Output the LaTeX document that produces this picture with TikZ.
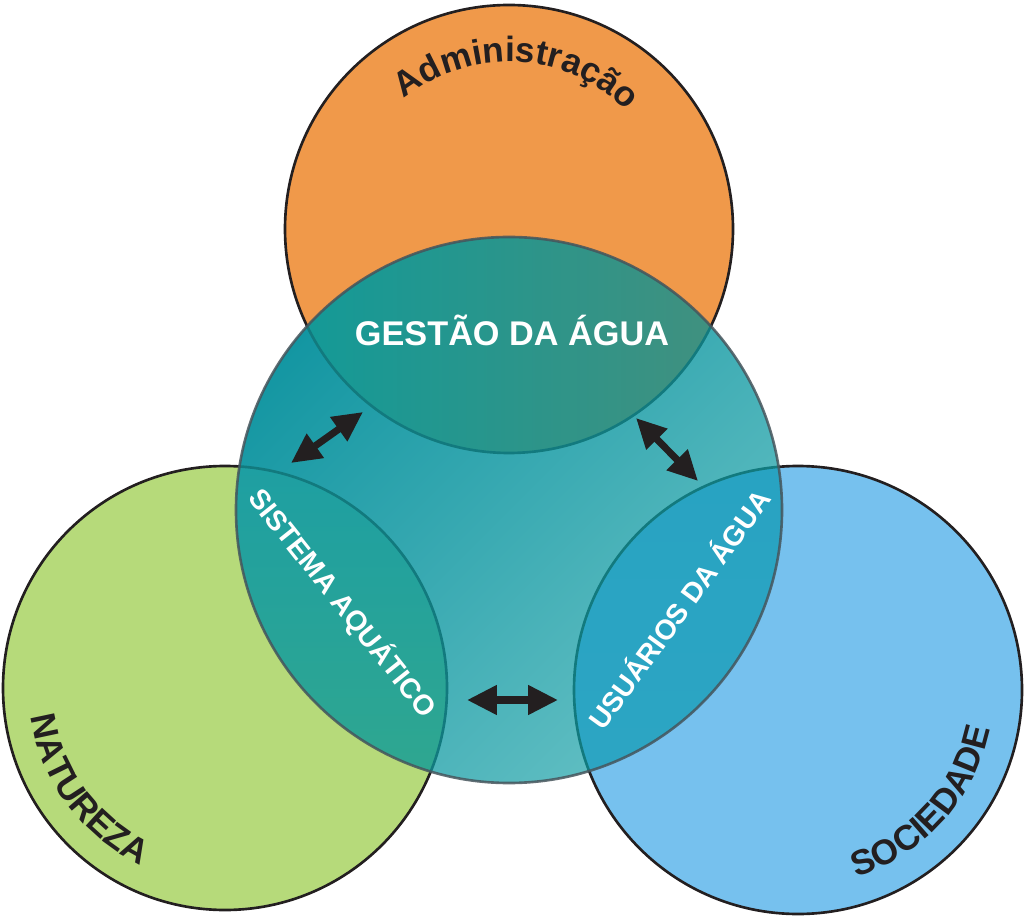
\documentclass[tikz,border=0pt]{standalone}
\usepackage{fontspec}
\setmainfont{Liberation Sans}
\usetikzlibrary{arrows.meta,decorations.text}
\definecolor{ink}{HTML}{231F20}
\definecolor{adm}{HTML}{F0994A}
\definecolor{nat}{HTML}{B6DA7A}
\definecolor{soc}{HTML}{76C1EE}
\definecolor{tealtop}{HTML}{1396A2}
\definecolor{tealbot}{HTML}{62BFC3}
\definecolor{gesleft}{HTML}{129A98}
\definecolor{gesright}{HTML}{42907E}
\definecolor{sistop}{HTML}{1E9FA2}
\definecolor{sisbot}{HTML}{36AA88}
\definecolor{usutop}{HTML}{28A3C2}
\definecolor{usubot}{HTML}{2EA6C4}
\definecolor{deepteal}{HTML}{127A7E}
\definecolor{rimgray}{HTML}{46555C}
\newcommand\ringfont{\fontsize{20}{20}\selectfont\bfseries}

\begin{document}
\begin{tikzpicture}[x=0.02cm, y=0.02cm,
    ring/.style = {draw=ink, line width=1.5pt},
    hidden/.style = {draw=deepteal, line width=1.5pt},
    twoway/.style = {{Triangle[length=17pt,width=16pt]}-{Triangle[length=17pt,width=16pt]}, line width=4pt, draw=ink},
    title/.style = {text=white, font=\fontsize{19.5}{19.5}\selectfont\bfseries, inner sep=0pt, text height=0.72em, text depth=0pt},
    lens/.style = {text=white, font=\fontsize{16}{16}\selectfont\bfseries, inner sep=0pt, text height=0.72em, text depth=0pt}]
\useasboundingbox (0,0) rectangle (1024,917);

\path[ring, fill=adm] (509,688) circle[radius=224];
\path[ring, fill=nat] (225,229) circle[radius=222];
\path[ring, fill=soc] (798,227) circle[radius=224];

\shade[top color=tealtop, bottom color=tealbot, shading angle=45] (509,407) circle[radius=273];
\begin{scope}
  \clip (509,407) circle[radius=273];
  \shade[left color=gesleft, right color=gesright] (509,688) circle[radius=224];
  \shade[top color=sistop, bottom color=sisbot] (225,229) circle[radius=222];
  \shade[top color=usutop, bottom color=usubot] (798,227) circle[radius=224];
  \draw[hidden] (509,688) circle[radius=224];
  \draw[hidden] (225,229) circle[radius=222];
  \draw[hidden] (798,227) circle[radius=224];
\end{scope}
\draw[draw=rimgray, draw opacity=0.85, line width=1.5pt] (509,407) circle[radius=273];

\node[title] (gestao) at (512,578) {GESTÃO DA ÁGUA};
\node[lens, rotate=-51.5] (sistema) at (340,312) {SISTEMA AQUÁTICO};
\node[lens, rotate=54] (usuarios) at (683,305) {USUÁRIOS DA ÁGUA};

\coordinate (a1) at (291,454);
\coordinate (a2) at (363,505);
\coordinate (b1) at (636,499);
\coordinate (b2) at (698,436);
\coordinate (c1) at (467,217);
\coordinate (c2) at (558,217);
\draw[twoway] (a1) -- (a2);
\draw[twoway] (b1) -- (b2);
\draw[twoway] (c1) -- (c2);

\path[decorate, decoration={text along path, text align=center, text color=ink,
    text={|\ringfont|Administração}}]
  ([shift={(167:167)}]509,688) arc[start angle=167, end angle=7, radius=167];
\path[decorate, decoration={text along path, text align=center, text color=ink,
    text={|\ringfont|NATUREZA}}]
  ([shift={(170:196)}]225,229) arc[start angle=170, end angle=263, radius=196];
\path[decorate, decoration={text along path, text align=center, text color=ink,
    text={|\ringfont|SOCIEDADE}}]
  ([shift={(272:196)}]798,227) arc[start angle=272, end angle=364, radius=196];
\end{tikzpicture}
\end{document}
